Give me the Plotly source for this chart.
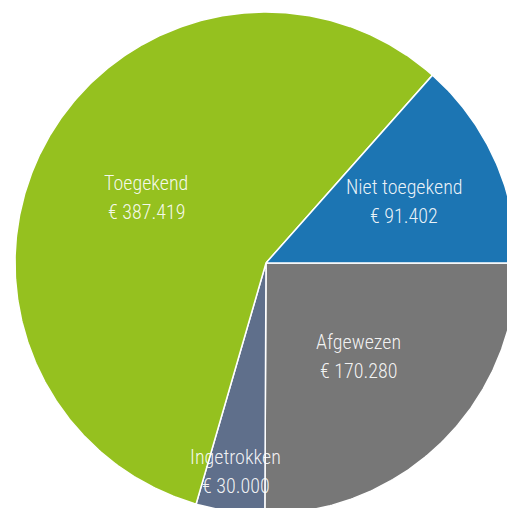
import math
import plotly.graph_objects as go

# data
labels = ["Toegekend", "Niet toegekend", "Afgewezen", "Ingetrokken"]
values = [387419, 91402, 170280, 30000]
value_text = ["€ 387.419", "€ 91.402", "€ 170.280", "€ 30.000"]

# style / layout
colors = {"Toegekend": "#95C11F", "Niet toegekend": "#1C75B3",
          "Afgewezen": "#777777", "Ingetrokken": "#5F6F8B"}
draw_order = ["Afgewezen", "Ingetrokken", "Toegekend", "Niet toegekend"]
label_radius = {"Toegekend": 0.545, "Niet toegekend": 0.605,
                "Afgewezen": 0.52, "Ingetrokken": 0.837}
W, H = 507, 508
cx, cy, R = 266, 263, 251
start_angle = 90.0  # degrees clockwise from 12 o'clock
FONT = "Roboto Condensed, Liberation Sans Narrow, Arial Narrow, Roboto, sans-serif"

total = sum(values)
vmap = dict(zip(labels, values))
tmap = dict(zip(labels, value_text))

fig = go.Figure()
annotations = []
ang = start_angle
for name in draw_order:
    span = vmap[name] / total * 360.0
    a0, a1 = ang, ang + span
    n = max(int(span * 2), 4)
    xs = [cx]
    ys = [cy]
    for i in range(n + 1):
        t = math.radians(a0 + (a1 - a0) * i / n)
        xs.append(cx + R * math.sin(t))
        ys.append(cy - R * math.cos(t))
    xs.append(cx)
    ys.append(cy)
    fig.add_trace(go.Scatter(x=xs, y=ys, mode="lines", fill="toself",
                             fillcolor=colors[name],
                             line=dict(color="white", width=1.5),
                             hoverinfo="text", text=name, showlegend=False))
    mid = math.radians((a0 + a1) / 2)
    lx = cx + label_radius[name] * R * math.sin(mid)
    ly = cy - label_radius[name] * R * math.cos(mid)
    for txt, shift in ((name, 14), (tmap[name], -15)):
        annotations.append(dict(x=lx, y=ly, text=txt, showarrow=False,
                                yshift=shift, xref="x", yref="y",
                                font=dict(family=FONT, size=20, weight=300,
                                          color="rgba(255,255,255,0.92)")))
    ang = a1

fig.update_layout(
    width=W, height=H, margin=dict(l=0, r=0, t=0, b=0),
    paper_bgcolor="white", plot_bgcolor="white",
    xaxis=dict(range=[0, W], visible=False, fixedrange=True),
    yaxis=dict(range=[H, 0], visible=False, fixedrange=True),
    annotations=annotations, showlegend=False,
)
fig.write_html("out.html")
